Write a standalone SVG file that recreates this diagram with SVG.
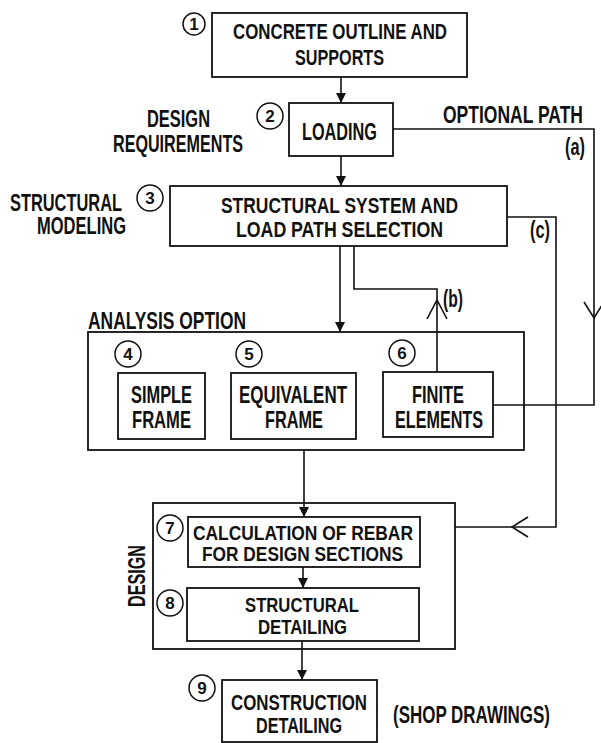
<svg xmlns="http://www.w3.org/2000/svg" width="601" height="743" viewBox="0 0 601 743">
<style>
  .bx { fill: none; stroke: #111; stroke-width: 1.8; }
  .ln { fill: none; stroke: #111; stroke-width: 1.6; }
  .t { font-family: "Liberation Sans", Arial, sans-serif; font-weight: bold; font-size: 23px; fill: #111; }
  .t1 { font-size: 21.5px; }
  .t2 { font-size: 20px; }
  .n { font-family: "Liberation Sans", Arial, sans-serif; font-weight: bold; font-size: 17px; fill: #111; text-anchor: middle; }
  .c { fill: none; stroke: #111; stroke-width: 1.5; }
</style>
<defs>
  <marker id="ah" viewBox="0 0 10 10" markerWidth="10" markerHeight="10" refX="10" refY="5" orient="auto" markerUnits="userSpaceOnUse">
    <path d="M0,0 L10,5 L0,10 z" fill="#111"/>
  </marker>
</defs>
<rect width="601" height="743" fill="#fff"/>

<g id="labels">
  <text class="t" x="147" y="127" textLength="63" lengthAdjust="spacingAndGlyphs">DESIGN</text>
  <text class="t" x="113" y="152" textLength="130" lengthAdjust="spacingAndGlyphs">REQUIREMENTS</text>
  <text class="t" x="10" y="211" textLength="112" lengthAdjust="spacingAndGlyphs">STRUCTURAL</text>
  <text class="t" x="37" y="234" textLength="89" lengthAdjust="spacingAndGlyphs">MODELING</text>
  <text class="t" x="443" y="123" textLength="140" lengthAdjust="spacingAndGlyphs">OPTIONAL PATH</text>
  <text class="t" x="565" y="155" textLength="20" lengthAdjust="spacingAndGlyphs">(a)</text>
  <text class="t" x="530" y="238" textLength="20" lengthAdjust="spacingAndGlyphs">(c)</text>
  <text class="t" x="443" y="307" textLength="20" lengthAdjust="spacingAndGlyphs">(b)</text>
  <text class="t" x="88" y="329" textLength="158" lengthAdjust="spacingAndGlyphs">ANALYSIS OPTION</text>
  <text class="t" x="0" y="0" transform="translate(145,607) rotate(-90)" textLength="62" lengthAdjust="spacingAndGlyphs">DESIGN</text>
  <text class="t" x="393" y="723" textLength="157" lengthAdjust="spacingAndGlyphs">(SHOP DRAWINGS)</text>
</g>

<g id="node1">
  <rect class="bx" x="212" y="13" width="255" height="64"/>
  <circle class="c" cx="194" cy="24" r="11"/>
  <text class="n" x="194" y="30">1</text>
  <text class="t t1" x="233" y="39" textLength="214" lengthAdjust="spacingAndGlyphs">CONCRETE OUTLINE AND</text>
  <text class="t t1" x="295" y="65" textLength="89" lengthAdjust="spacingAndGlyphs">SUPPORTS</text>
</g>

<g id="node2">
  <rect class="bx" x="289" y="103" width="104" height="53"/>
  <circle class="c" cx="270" cy="116" r="13"/>
  <text class="n" x="270" y="122">2</text>
  <text class="t" x="302" y="140" textLength="75" lengthAdjust="spacingAndGlyphs">LOADING</text>
</g>

<g id="node3">
  <rect class="bx" x="170" y="186" width="337" height="60"/>
  <circle class="c" cx="150" cy="198" r="13"/>
  <text class="n" x="150" y="204">3</text>
  <text class="t t1" x="221" y="213" textLength="237" lengthAdjust="spacingAndGlyphs">STRUCTURAL SYSTEM AND</text>
  <text class="t t1" x="236" y="237" textLength="207" lengthAdjust="spacingAndGlyphs">LOAD PATH SELECTION</text>
</g>

<g id="analysis">
  <rect class="bx" x="88" y="332" width="436" height="118"/>
</g>

<g id="node4">
  <rect class="bx" x="118" y="373" width="87" height="66"/>
  <circle class="c" cx="128" cy="354" r="13"/>
  <text class="n" x="128" y="360">4</text>
  <text class="t" x="131" y="403" textLength="61" lengthAdjust="spacingAndGlyphs">SIMPLE</text>
  <text class="t" x="132" y="428" textLength="59" lengthAdjust="spacingAndGlyphs">FRAME</text>
</g>

<g id="node5">
  <rect class="bx" x="231" y="373" width="125" height="66"/>
  <circle class="c" cx="249" cy="354" r="13"/>
  <text class="n" x="249" y="360">5</text>
  <text class="t" x="239" y="403" textLength="108" lengthAdjust="spacingAndGlyphs">EQUIVALENT</text>
  <text class="t" x="265" y="428" textLength="58" lengthAdjust="spacingAndGlyphs">FRAME</text>
</g>

<g id="node6">
  <rect class="bx" x="383" y="372" width="110" height="65"/>
  <circle class="c" cx="402" cy="353" r="13"/>
  <text class="n" x="402" y="359">6</text>
  <text class="t" x="412" y="403" textLength="52" lengthAdjust="spacingAndGlyphs">FINITE</text>
  <text class="t" x="395" y="428" textLength="88" lengthAdjust="spacingAndGlyphs">ELEMENTS</text>
</g>

<g id="design">
  <rect class="bx" x="153" y="503" width="302" height="146"/>
</g>

<g id="node7">
  <rect class="bx" x="188" y="517" width="232" height="50"/>
  <circle class="c" cx="170" cy="528" r="13"/>
  <text class="n" x="170" y="534">7</text>
  <text class="t t2" x="193" y="540" textLength="220" lengthAdjust="spacingAndGlyphs">CALCULATION OF REBAR</text>
  <text class="t t2" x="202" y="561" textLength="201" lengthAdjust="spacingAndGlyphs">FOR DESIGN SECTIONS</text>
</g>

<g id="node8">
  <rect class="bx" x="187" y="588" width="232" height="53"/>
  <circle class="c" cx="170" cy="603" r="13"/>
  <text class="n" x="170" y="609">8</text>
  <text class="t t2" x="245" y="612" textLength="114" lengthAdjust="spacingAndGlyphs">STRUCTURAL</text>
  <text class="t t2" x="258" y="634" textLength="89" lengthAdjust="spacingAndGlyphs">DETAILING</text>
</g>

<g id="node9">
  <rect class="bx" x="222" y="680" width="155" height="62"/>
  <circle class="c" cx="202" cy="688" r="13"/>
  <text class="n" x="202" y="694">9</text>
  <text class="t t1" x="231" y="710" textLength="136" lengthAdjust="spacingAndGlyphs">CONSTRUCTION</text>
  <text class="t t1" x="256" y="733" textLength="86" lengthAdjust="spacingAndGlyphs">DETAILING</text>
</g>

<g id="connectors">
  <path class="ln" d="M341,77 V103" marker-end="url(#ah)"/>
  <path class="ln" d="M341,156 V186" marker-end="url(#ah)"/>
  <path class="ln" d="M340,246 V332" marker-end="url(#ah)"/>
  <path class="ln" d="M437,372 V289 H354 V246"/>
  <path class="ln" d="M427,319 L437,300 L447,319"/>
  <path class="ln" d="M393,129 H594 V405 H493"/>
  <path class="ln" d="M584,302 L594,318 L604,302"/>
  <path class="ln" d="M507,217 H556 V527 H455"/>
  <path class="ln" d="M528,517 L512,527 L528,537"/>
  <path class="ln" d="M304,450 V517" marker-end="url(#ah)"/>
  <path class="ln" d="M303,567 V588" marker-end="url(#ah)"/>
  <path class="ln" d="M302,641 V680" marker-end="url(#ah)"/>
</g>
</svg>
